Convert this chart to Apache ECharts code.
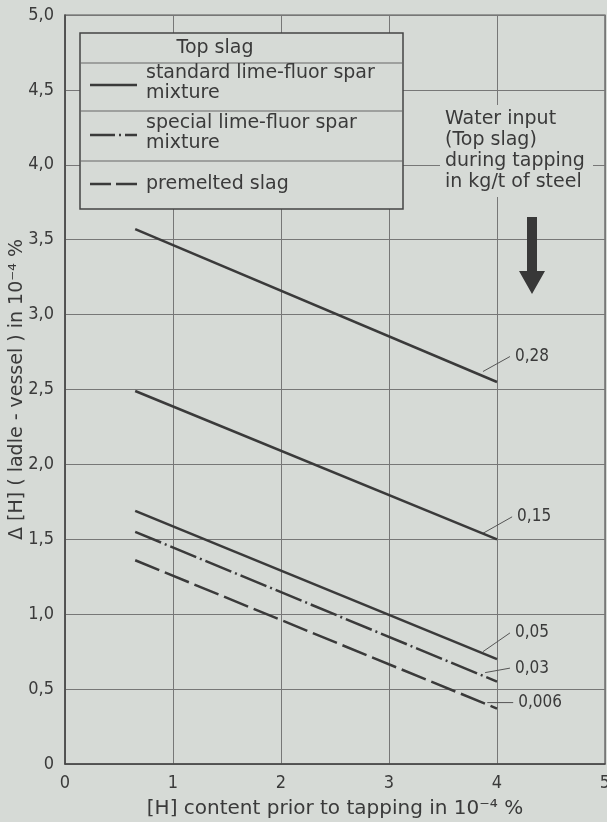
<!DOCTYPE html>
<html>
<head>
<meta charset="utf-8">
<script src="https://cdn.jsdelivr.net/npm/echarts@6/dist/echarts.min.js"></script>
<style>
html, body { margin: 0; padding: 0; background: #d6dad6; }
#chart { width: 607px; height: 822px; }
</style>
</head>
<body>
<div id="chart"></div>
<script>
// x positions where every curve starts and ends
const xPoints = [0.65, 4];
// water input labels, top slag type and the two end values of each curve
const curveLabels = ['0,28', '0,15', '0,05', '0,03', '0,006'];
const curveSlag = ['standard', 'standard', 'standard', 'special', 'premelted'];
const curveStart = [3.57, 2.49, 1.69, 1.55, 1.36];
const curveEnd = [2.55, 1.50, 0.70, 0.55, 0.37];
// leader lines from a curve to its label
const leaderFrom = [[3.87, 2.62], [3.87, 1.54], [3.87, 0.75], [3.89, 0.61], [3.91, 0.41]];
const leaderTo = [[4.12, 2.72], [4.14, 1.65], [4.12, 0.875], [4.12, 0.64], [4.15, 0.41]];

const bg = '#d6dad6';
const ink = '#3a3a3a';
const font = 'DejaVu Sans';
const narrow = '"DejaVu Sans Condensed", "DejaVu Sans"';
const dashes = { standard: 'solid', special: [28, 4, 2, 4], premelted: [26, 6] };

const series = [];
curveLabels.forEach((lab, i) => {
  series.push({
    type: 'line',
    name: lab,
    data: [[xPoints[0], curveStart[i]], [xPoints[1], curveEnd[i]]],
    symbol: 'none',
    lineStyle: { color: ink, width: 2.5, type: dashes[curveSlag[i]] },
    silent: true,
    z: 5
  });
  series.push({
    type: 'line',
    data: [leaderFrom[i], leaderTo[i]],
    symbol: 'none',
    lineStyle: { color: '#555', width: 1 },
    endLabel: {
      show: true,
      formatter: lab,
      distance: 5,
      color: ink,
      fontFamily: narrow,
      fontSize: 17
    },
    silent: true,
    z: 4
  });
});

const chart = echarts.init(document.getElementById('chart'));

const legendRows = [
  { y: 63, text: 'standard lime-fluor spar\nmixture', dash: 'solid', lineY: 85 },
  { y: 111, text: 'special lime-fluor spar\nmixture', dash: [25, 4, 2, 4], lineY: 135 },
  { y: 161, text: 'premelted slag', dash: [21, 5], lineY: 184 }
];

const graphics = [
  { type: 'rect', shape: { x: 80, y: 33, width: 323, height: 176 }, style: { fill: bg, stroke: '#444', lineWidth: 1.5 }, z: 10 },
  { type: 'text', x: 215, y: 48, style: { text: 'Top slag', font: '19px ' + font, fill: ink, align: 'center', verticalAlign: 'middle' }, z: 11 },
  { type: 'rect', shape: { x: 440, y: 105, width: 153, height: 92 }, style: { fill: bg }, z: 10 },
  { type: 'text', x: 445, y: 151, style: { text: 'Water input\n(Top slag)\nduring tapping\nin kg/t of steel', font: '19px ' + font, lineHeight: 21, fill: ink, verticalAlign: 'middle' }, z: 11 },
  { type: 'polygon', shape: { points: [[527, 217], [537, 217], [537, 271], [545, 271], [532, 294], [519, 271], [527, 271]] }, style: { fill: '#383838' }, z: 11 }
];
legendRows.forEach(r => {
  graphics.push({ type: 'line', shape: { x1: 80, y1: r.y, x2: 403, y2: r.y }, style: { stroke: '#666', lineWidth: 1 }, z: 11 });
  graphics.push({ type: 'line', shape: { x1: 90, y1: r.lineY, x2: 137, y2: r.lineY }, style: { stroke: ink, lineWidth: 2.5, lineDash: r.dash === 'solid' ? null : r.dash }, z: 11 });
  graphics.push({ type: 'text', x: 146, y: r.text.indexOf('\n') > 0 ? r.lineY - 2 : r.lineY, style: { text: r.text, font: '19px ' + font, lineHeight: 20, fill: ink, verticalAlign: 'middle' }, z: 11 });
});

chart.setOption({
  backgroundColor: bg,
  animation: false,
  grid: { left: 65, right: 2, top: 15, bottom: 58, outerBoundsMode: 'none', show: true, borderColor: '#555', borderWidth: 1.2 },
  xAxis: {
    type: 'value',
    min: 0, max: 5, interval: 1,
    name: '[H] content prior to tapping in 10⁻⁴ %',
    nameLocation: 'middle',
    nameGap: 35,
    nameMoveOverlap: false,
    nameTextStyle: { color: ink, fontFamily: font, fontSize: 20 },
    axisLine: { show: true, lineStyle: { color: '#444', width: 1.5 } },
    axisTick: { show: false },
    axisLabel: { color: ink, fontFamily: narrow, fontSize: 18, margin: 10 },
    splitLine: { show: true, lineStyle: { color: '#777', width: 1 } }
  },
  yAxis: {
    type: 'value',
    min: 0, max: 5, interval: 0.5,
    name: 'Δ [H] ( ladle - vessel ) in 10⁻⁴ %',
    nameLocation: 'middle',
    nameGap: 38,
    nameMoveOverlap: false,
    nameRotate: 90,
    nameTextStyle: { color: ink, fontFamily: font, fontSize: 19 },
    axisLine: { show: true, lineStyle: { color: '#444', width: 1.5 } },
    axisTick: { show: false },
    axisLabel: { color: ink, fontFamily: narrow, fontSize: 18, margin: 11, formatter: v => (v === 0 ? '0' : v.toFixed(1).replace('.', ',')) },
    splitLine: { show: true, lineStyle: { color: '#777', width: 1 } }
  },
  graphic: graphics,
  series: series
});
</script>
</body>
</html>
